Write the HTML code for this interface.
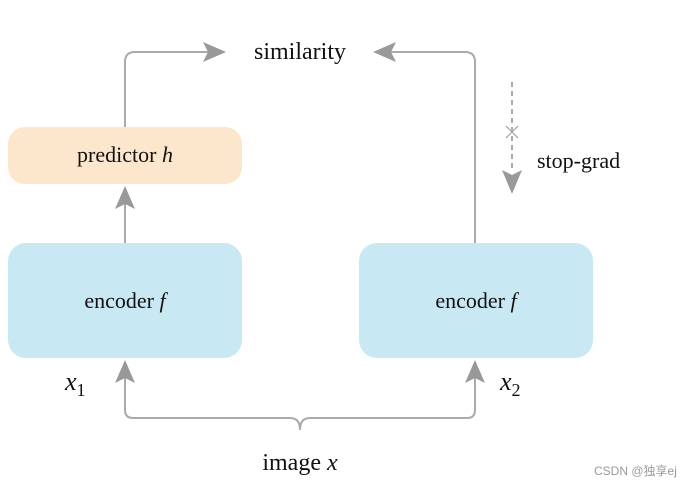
<!DOCTYPE html>
<html><head><meta charset="utf-8"><style>
html,body{margin:0;padding:0;background:#fff;width:699px;height:487px;overflow:hidden}
svg text{font-family:"Liberation Serif",serif;fill:#111}
</style></head><body>
<svg width="699" height="487" viewBox="0 0 699 487" xmlns="http://www.w3.org/2000/svg">
<defs>
<marker id="a" markerWidth="10" markerHeight="10" refX="9" refY="5" orient="auto" markerUnits="userSpaceOnUse" viewBox="0 0 10 10">
</marker>
</defs>
<!-- boxes -->
<rect x="8" y="127" width="234" height="57" rx="17" fill="#fde7cc"/>
<rect x="8" y="243" width="234" height="115" rx="18" fill="#c8e8f3"/>
<rect x="359" y="243" width="234" height="115" rx="18" fill="#c8e8f3"/>
<g stroke="#aaa" stroke-width="2" fill="none">
<path d="M125 127 V62 Q125 52 135 52 H210"/>
<path d="M475 243 V62 Q475 52 465 52 H390"/>
<path d="M125 243 V200"/>
<path d="M125 376 V410 Q125 418 133 418 H290 Q300 418 300 430 Q300 418 310 418 H467 Q475 418 475 410 V376"/>
<path d="M512 82 V172" stroke-dasharray="5,4"/>
<path d="M506 126 L518 138 M518 126 L506 138" stroke-width="1.3"/>
</g>
<g fill="#999">
<path d="M226 52 L203 42 L208 52 L203 62 Z"/>
<path d="M373 52 L396 42 L391 52 L396 62 Z"/>
<path d="M125 186 L115 209 L125 204 L135 209 Z"/>
<path d="M125 360 L115 383 L125 378 L135 383 Z"/>
<path d="M475 360 L465 383 L475 378 L485 383 Z"/>
<path d="M512 194 L502 170 L512 175 L522 170 Z"/>
</g>
<text x="300" y="59" font-size="24" text-anchor="middle">similarity</text>
<text x="125" y="162" font-size="22" text-anchor="middle">predictor <tspan font-style="italic">h</tspan></text>
<text x="125" y="308" font-size="22" text-anchor="middle">encoder <tspan font-style="italic">f</tspan></text>
<text x="476" y="308" font-size="22" text-anchor="middle">encoder <tspan font-style="italic">f</tspan></text>
<text x="537" y="168" font-size="22">stop-grad</text>
<text x="65" y="390" font-size="26" font-style="italic">x<tspan font-size="18" font-style="normal" dy="6">1</tspan></text>
<text x="500" y="390" font-size="26" font-style="italic">x<tspan font-size="18" font-style="normal" dy="6">2</tspan></text>
<text x="300" y="470" font-size="24" text-anchor="middle">image <tspan font-style="italic">x</tspan></text>
<text x="594" y="475" font-size="12" style="font-family:'Liberation Sans','Noto Sans CJK SC',sans-serif;fill:#999">CSDN @独享ej</text>
</svg>
</body></html>
